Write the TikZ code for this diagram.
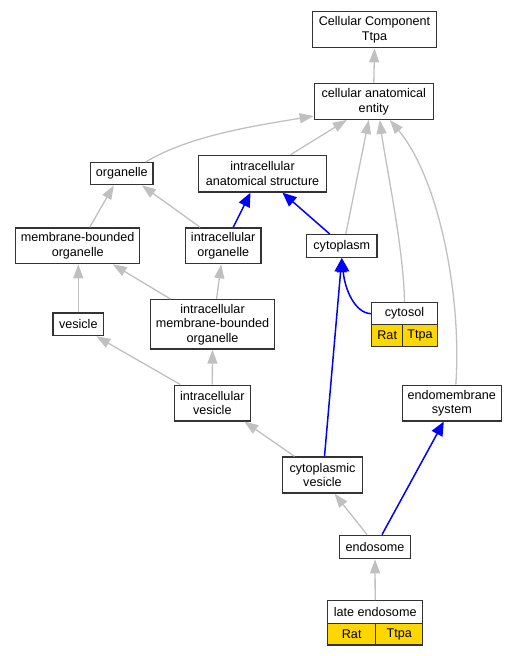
\documentclass[tikz,border=0pt]{standalone}
\usepackage{fontspec}
\setmainfont{Liberation Sans}
\usetikzlibrary{arrows.meta}
\definecolor{esgris}{RGB}{192,192,192}
\definecolor{oro}{RGB}{255,215,0}
\tikzset{
  term/.style={draw=black!80, line width=1.3pt, fill=white, align=center, inner sep=0pt,
    font=\fontsize{12.6}{14.5}\selectfont},
  celda/.style={term, fill=oro},
  esun/.style={draw=esgris, line width=1.3pt, -{Triangle[length=14pt,width=10pt]}},
  partede/.style={draw=blue, line width=1.5pt, -{Triangle[length=14pt,width=12pt]}}
}
\begin{document}
\begin{tikzpicture}[x=1pt,y=-1pt]
        \useasboundingbox (0,0) rectangle (517,656);

        % Términos
        \node[term, minimum width=124pt, minimum height=36pt] (ccomp) at (374.5,29.7) {Cellular Component\\Ttpa};
        \node[term, minimum width=119pt, minimum height=35.6pt] (ent) at (373.8,101.5) {cellular anatomical\\entity};
        \node[term, minimum width=62.3pt, minimum height=22pt] (org) at (121.8,173.7) {organelle};
        \node[term, minimum width=127.6pt, minimum height=36.7pt] (ias) at (262.5,173.7) {intracellular\\anatomical structure};
        \node[term, minimum width=124pt, minimum height=35.7pt] (mbo) at (77.7,245.8) {membrane-bounded\\organelle};
        \node[term, minimum width=75.7pt, minimum height=35.7pt] (io) at (223.2,245.8) {intracellular\\organelle};
        \node[term, minimum width=70.3pt, minimum height=22.6pt] (cyto) at (341.8,246) {cytoplasm};
        \node[term, minimum width=50.7pt, minimum height=22.7pt] (ves) at (78.3,324.3) {vesicle};
        \node[term, minimum width=124.3pt, minimum height=49.3pt] (imbo) at (212.5,324.3) {intracellular\\membrane-bounded\\organelle};
        \node[term, minimum width=76pt, minimum height=35.7pt] (iv) at (212.3,403) {intracellular\\vesicle};
        \node[term, minimum width=99pt, minimum height=35.7pt] (endo) at (451.8,403) {endomembrane\\system};
        \node[term, minimum width=79.6pt, minimum height=36pt] (cv) at (322.5,475) {cytoplasmic\\vesicle};
        \node[term, minimum width=71.4pt, minimum height=23.4pt] (ens) at (375,547) {endosome};

        % Términos con especies
        \node[term, minimum width=65.6pt, minimum height=22pt] (cytosol) at (404.5,313.7) {cytosol};
        \node[celda, minimum width=31pt, minimum height=22pt] (cytosolrat) at (387.2,335.7) {Rat};
        \node[celda, minimum width=34.6pt, minimum height=22pt] (cytosolttpa) at (420,335.7) {Ttpa};
        \node[term, minimum width=95pt, minimum height=22.6pt] (late) at (375.2,612) {late endosome};
        \node[celda, minimum width=48pt, minimum height=21.7pt] (laterat) at (351.7,634.2) {Rat};
        \node[celda, minimum width=47pt, minimum height=21.7pt] (latettpa) at (399.2,634.2) {Ttpa};

        % Relaciones is_a
        \draw[esun] (ent.north) -- (ccomp.south);
        \draw[esun] ([xshift=-8pt]org.north east) .. controls (190,135) and (260,125) .. ([yshift=4pt]ent.south west);
        \draw[esun] ([xshift=28pt]ias.north) -- ([xshift=-27pt]ent.south);
        \draw[esun] ([xshift=4pt]cyto.north) -- ([xshift=-5pt]ent.south);
        \draw[esun] (cytosol.north) .. controls (404,250) and (385,160) .. ([xshift=6pt]ent.south);
        \draw[esun] ([xshift=4pt]endo.north) .. controls (462,300) and (440,180) .. ([xshift=16pt]ent.south);
        \draw[esun] ([xshift=12pt]mbo.north) -- ([xshift=-8pt]org.south);
        \draw[esun] ([xshift=-23pt]io.north) -- ([xshift=20pt]org.south);
        \draw[esun] (ves.north) -- (ves.north |- mbo.south);
        \draw[esun] ([xshift=-42pt]imbo.north) -- ([xshift=35pt]mbo.south);
        \draw[esun] ([xshift=4pt]imbo.north) -- ([xshift=-2pt]io.south);
        \draw[esun] ([xshift=-32pt]iv.north) -- ([xshift=18pt]ves.south);
        \draw[esun] (iv.north) -- (imbo.south);
        \draw[esun] ([xshift=-28pt]cv.north) -- ([xshift=32pt]iv.south);
        \draw[esun] ([xshift=-8pt]ens.north) -- ([xshift=12pt]cv.south);
        \draw[esun] (late.north) -- (ens.south);

        % Relaciones part_of
        \draw[partede] ([xshift=10pt]io.north) -- ([xshift=-12pt]ias.south);
        \draw[partede] ([xshift=-12pt]cyto.north) -- ([xshift=20pt]ias.south);
        \draw[partede] (cytosol.west) .. controls (355,313) and (345,290) .. (cyto.south);
        \draw[partede] ([xshift=2pt]cv.north) -- (cyto.south);
        \draw[partede] ([xshift=7pt]ens.north) -- ([xshift=-8pt]endo.south);
    \end{tikzpicture}
\end{document}
